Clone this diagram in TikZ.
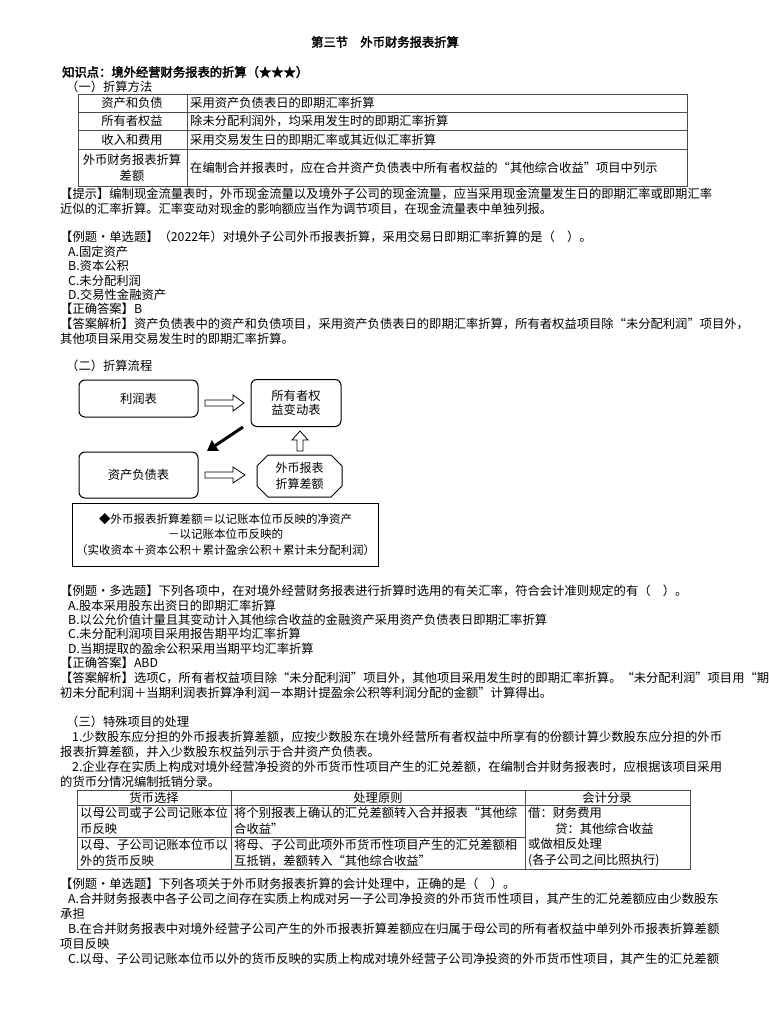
\documentclass[tikz,border=0pt]{standalone}
\usepackage{fontspec}
\setmainfont{Noto Sans CJK SC}[AutoFakeBold=2.5]
\usetikzlibrary{arrows.meta,shapes.geometric}
\newcommand{\fz}{\fontsize{12.3}{14}\selectfont}
\newcommand{\fzt}{\fontsize{12.3}{16}\selectfont}
\tikzset{
 txt/.style={anchor=west,inner sep=0pt,font=\fz},
 ctxt/.style={inner sep=0pt,font=\fz,align=center},
 tbl/.style={draw=black!70,line width=0.8pt},
 flowbox/.style={draw,line width=1pt,rounded corners=6pt},
 hollow/.style={draw,line width=0.8pt,fill=white}
}
\begin{document}
\begin{tikzpicture}[x=1pt,y=-1pt]
\useasboundingbox[fill=white] (0,0) rectangle (768,1024);
% title
\node[ctxt,font=\fz\bfseries] (title) at (385,42) {第三节\quad 外币财务报表折算};
\node[txt,font=\fz\bfseries] (kp) at (62,72) {知识点：境外经营财务报表的折算（★★★）};
\node[txt] (s1) at (66,87) {（一）折算方法};
% table 1
\draw[tbl] (78,94) rectangle (687,186);
\foreach \y in {112,130,149} \draw[tbl] (78,\y) -- (687,\y);
\draw[tbl] (187,94) -- (187,186);
\node[ctxt] (a1) at (132,103) {资产和负债};
\node[ctxt] (a2) at (132,121) {所有者权益};
\node[ctxt] (a3) at (132,140) {收入和费用};
\node[ctxt,font=\fontsize{12.3}{16}\selectfont] (a4) at (132,167.5) {外币财务报表折算\\差额};
\node[txt] (b1) at (190,103) {采用资产负债表日的即期汇率折算};
\node[txt] (b2) at (190,121) {除未分配利润外，均采用发生时的即期汇率折算};
\node[txt] (b3) at (190,140) {采用交易发生日的即期汇率或其近似汇率折算};
\node[txt] (b4) at (190,168) {在编制合并报表时，应在合并资产负债表中所有者权益的“其他综合收益”项目中列示};
% tip
\node[txt] (tip1) at (60,194) {【提示】编制现金流量表时，外币现金流量以及境外子公司的现金流量，应当采用现金流量发生日的即期汇率或即期汇率};
\node[txt] (tip2) at (60,209) {近似的汇率折算。汇率变动对现金的影响额应当作为调节项目，在现金流量表中单独列报。};
% example 1
\node[txt] (e1) at (60,237) {【例题·单选题】（2022年）对境外子公司外币报表折算，采用交易日即期汇率折算的是（　）。};
\node[txt] (e1a) at (68,252) {A.固定资产};
\node[txt] (e1b) at (68,266) {B.资本公积};
\node[txt] (e1c) at (68,281) {C.未分配利润};
\node[txt] (e1d) at (68,295) {D.交易性金融资产};
\node[txt] (e1r) at (60,309) {【正确答案】B};
\node[txt] (e1x) at (60,324) {【答案解析】资产负债表中的资产和负债项目，采用资产负债表日的即期汇率折算，所有者权益项目除“未分配利润”项目外，};
\node[txt] (e1y) at (60,339) {其他项目采用交易发生时的即期汇率折算。};
\node[txt] (s2) at (66,366) {（二）折算流程};
% flow diagram
\node[flowbox,minimum width=119pt,minimum height=37pt] (lr) at (138.5,398.5) {\fz 利润表};
\node[flowbox,minimum width=90pt,minimum height=47pt,align=center,font=\fz] (qy) at (296,403) {所有者权\\益变动表};
\node[flowbox,minimum width=119pt,minimum height=46pt] (zc) at (138.5,475) {\fz 资产负债表};
\draw[line width=1pt] (268,455) -- (331,455) -- (342,466) -- (342,486) -- (331,497) -- (268,497) -- (257,486) -- (257,466) -- cycle;
\node[ctxt,font=\fontsize{12}{16}\selectfont] (wb) at (299.5,476) {外币报表\\折算差额};
\node[draw,line width=1pt,minimum width=305pt,minimum height=63pt,align=center,font=\fontsize{11.5}{15.5}\selectfont] (eq) at (225.5,534.5) {◆外币报表折算差额＝以记账本位币反映的净资产\\－以记账本位币反映的\\（实收资本＋资本公积＋累计盈余公积＋累计未分配利润）};
% hollow arrows
\draw[hollow] (205,400) -- (233,400) -- (233,395) -- (244,403) -- (233,411) -- (233,406) -- (205,406) -- cycle;
\draw[hollow] (205,472) -- (233,472) -- (233,467) -- (245,475) -- (233,483) -- (233,478) -- (205,478) -- cycle;
\draw[hollow] (297,451) -- (297,440) -- (292,440) -- (300,431) -- (308,440) -- (303,440) -- (303,451) -- cycle;
\coordinate (bs) at (243,427);
\coordinate (be) at (207,451);
\draw[line width=3pt,-{Triangle[length=10pt,width=12pt]}] (bs) -- (be);
% example 2
\node[txt] (e2) at (60,591) {【例题·多选题】下列各项中，在对境外经营财务报表进行折算时选用的有关汇率，符合会计准则规定的有（　）。};
\node[txt] (e2a) at (68,606) {A.股本采用股东出资日的即期汇率折算};
\node[txt] (e2b) at (68,620) {B.以公允价值计量且其变动计入其他综合收益的金融资产采用资产负债表日即期汇率折算};
\node[txt] (e2c) at (68,634) {C.未分配利润项目采用报告期平均汇率折算};
\node[txt] (e2d) at (68,649) {D.当期提取的盈余公积采用当期平均汇率折算};
\node[txt] (e2r) at (60,663) {【正确答案】ABD};
\node[txt] (e2x) at (60,678) {【答案解析】选项C，所有者权益项目除“未分配利润”项目外，其他项目采用发生时的即期汇率折算。“未分配利润”项目用“期};
\node[txt] (e2y) at (60,693) {初未分配利润＋当期利润表折算净利润－本期计提盈余公积等利润分配的金额”计算得出。};
% section 3
\node[txt] (s3) at (66,722) {（三）特殊项目的处理};
\node[txt] (p1) at (72,737) {1.少数股东应分担的外币报表折算差额，应按少数股东在境外经营所有者权益中所享有的份额计算少数股东应分担的外币};
\node[txt] (p1b) at (60,752) {报表折算差额，并入少数股东权益列示于合并资产负债表。};
\node[txt] (p2) at (72,767) {2.企业存在实质上构成对境外经营净投资的外币货币性项目产生的汇兑差额，在编制合并财务报表时，应根据该项目采用};
\node[txt] (p2b) at (60,782) {的货币分情况编制抵销分录。};
% table 2
\draw[tbl] (77,790) rectangle (690,869);
\draw[tbl] (77,805) -- (690,805);
\draw[tbl] (77,837) -- (525,837);
\draw[tbl] (231,790) -- (231,869);
\draw[tbl] (525,790) -- (525,869);
\node[ctxt] (h1) at (154,797.5) {货币选择};
\node[ctxt] (h2) at (378,797.5) {处理原则};
\node[ctxt] (h3) at (607,797.5) {会计分录};
\node[txt,align=left,font=\fzt] (c11) at (80,821) {以母公司或子公司记账本位\\币反映};
\node[txt,align=left,font=\fzt] (c12) at (234,821) {将个别报表上确认的汇兑差额转入合并报表“其他综\\合收益”};
\node[txt,align=left,font=\fzt] (c21) at (80,853) {以母、子公司记账本位币以\\外的货币反映};
\node[txt,align=left,font=\fzt] (c22) at (234,853) {将母、子公司此项外币货币性项目产生的汇兑差额相\\互抵销，差额转入“其他综合收益”};
\node[txt,align=left,font=\fontsize{12.3}{15.5}\selectfont] (c3) at (528,837) {借：财务费用\\\hspace{2.2em}贷：其他综合收益\\或做相反处理\\(各子公司之间比照执行)};
% example 3
\node[txt] (e3) at (60,884) {【例题·单选题】下列各项关于外币财务报表折算的会计处理中，正确的是（　）。};
\node[txt] (e3a) at (68,899) {A.合并财务报表中各子公司之间存在实质上构成对另一子公司净投资的外币货币性项目，其产生的汇兑差额应由少数股东};
\node[txt] (e3a2) at (60,914) {承担};
\node[txt] (e3b) at (68,929) {B.在合并财务报表中对境外经营子公司产生的外币报表折算差额应在归属于母公司的所有者权益中单列外币报表折算差额};
\node[txt] (e3b2) at (60,944) {项目反映};
\node[txt] (e3c) at (68,959) {C.以母、子公司记账本位币以外的货币反映的实质上构成对境外经营子公司净投资的外币货币性项目，其产生的汇兑差额};
\end{tikzpicture}
\end{document}
